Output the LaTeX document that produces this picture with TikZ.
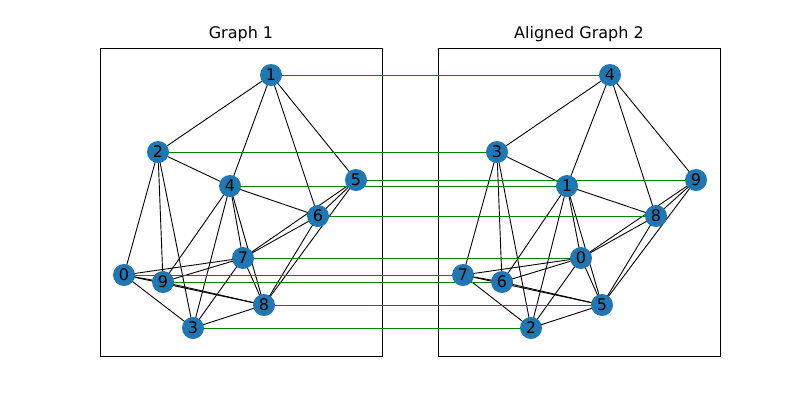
\documentclass[tikz,border=0pt]{standalone}
\usepackage{fontspec}
\setmainfont{DejaVu Sans}
\definecolor{mblue}{HTML}{1F77B4}
\definecolor{mgreen}{HTML}{008000}
\begin{document}
\begin{tikzpicture}[x=1pt,y=-1pt,
  v/.style={circle,fill=mblue,minimum size=22pt,inner sep=0pt,font=\fontsize{16}{16}\selectfont},
  e/.style={black,line width=0.9pt},
  g/.style={mgreen,line width=0.9pt},
  panel/.style={draw=black,line width=0.8pt},
  ttl/.style={font=\fontsize{16}{16}\selectfont}]
\useasboundingbox (0,0) rectangle (800,400);
\draw[panel] (100,48) rectangle (382,356);
\draw[panel] (438,48) rectangle (720,356);
\node[ttl] (t1) at (241,34) {Graph 1};
\node[ttl] (t2) at (579,34) {Aligned Graph 2};
% left
\foreach \n/\x/\y in {1/271/75,2/158/152,4/230/186,5/356/180,6/318/216,7/243/258,0/124/275,9/163/282,8/264/305,3/193/328}
  \coordinate (L\n) at (\x,\y);
\foreach \n/\x/\y in {4/610/75,3/497/152,1/567/186,9/696/180,8/656/216,0/581/258,7/463/275,6/502/282,5/602/305,2/531/328}
  \coordinate (R\n) at (\x,\y);
\foreach \a/\b in {2/0,2/9,2/3,2/4,2/1,4/1,4/6,4/9,4/3,4/7,4/8,5/1,5/6,5/7,5/8,6/1,6/7,6/8,7/0,7/9,7/3,7/8,0/9,0/8,0/3,9/8,3/8}
  \draw[e] (L\a) -- (L\b);
\foreach \a/\b in {3/7,3/6,3/2,3/1,3/4,1/4,1/8,1/6,1/2,1/0,1/5,9/4,9/8,9/0,9/5,8/4,8/0,8/5,0/7,0/6,0/2,0/5,7/6,7/5,7/2,6/5,2/5}
  \draw[e] (R\a) -- (R\b);
\foreach \a/\b in {1/4,2/3,4/1,5/9,6/8,7/0,0/7,9/6,8/5,3/2}
  \draw[g] (L\a) -- (R\b);
\foreach \n in {0,...,9} {\node[v] (l\n) at (L\n) {\n}; \node[v] (r\n) at (R\n) {\n};}
\end{tikzpicture}
\end{document}
